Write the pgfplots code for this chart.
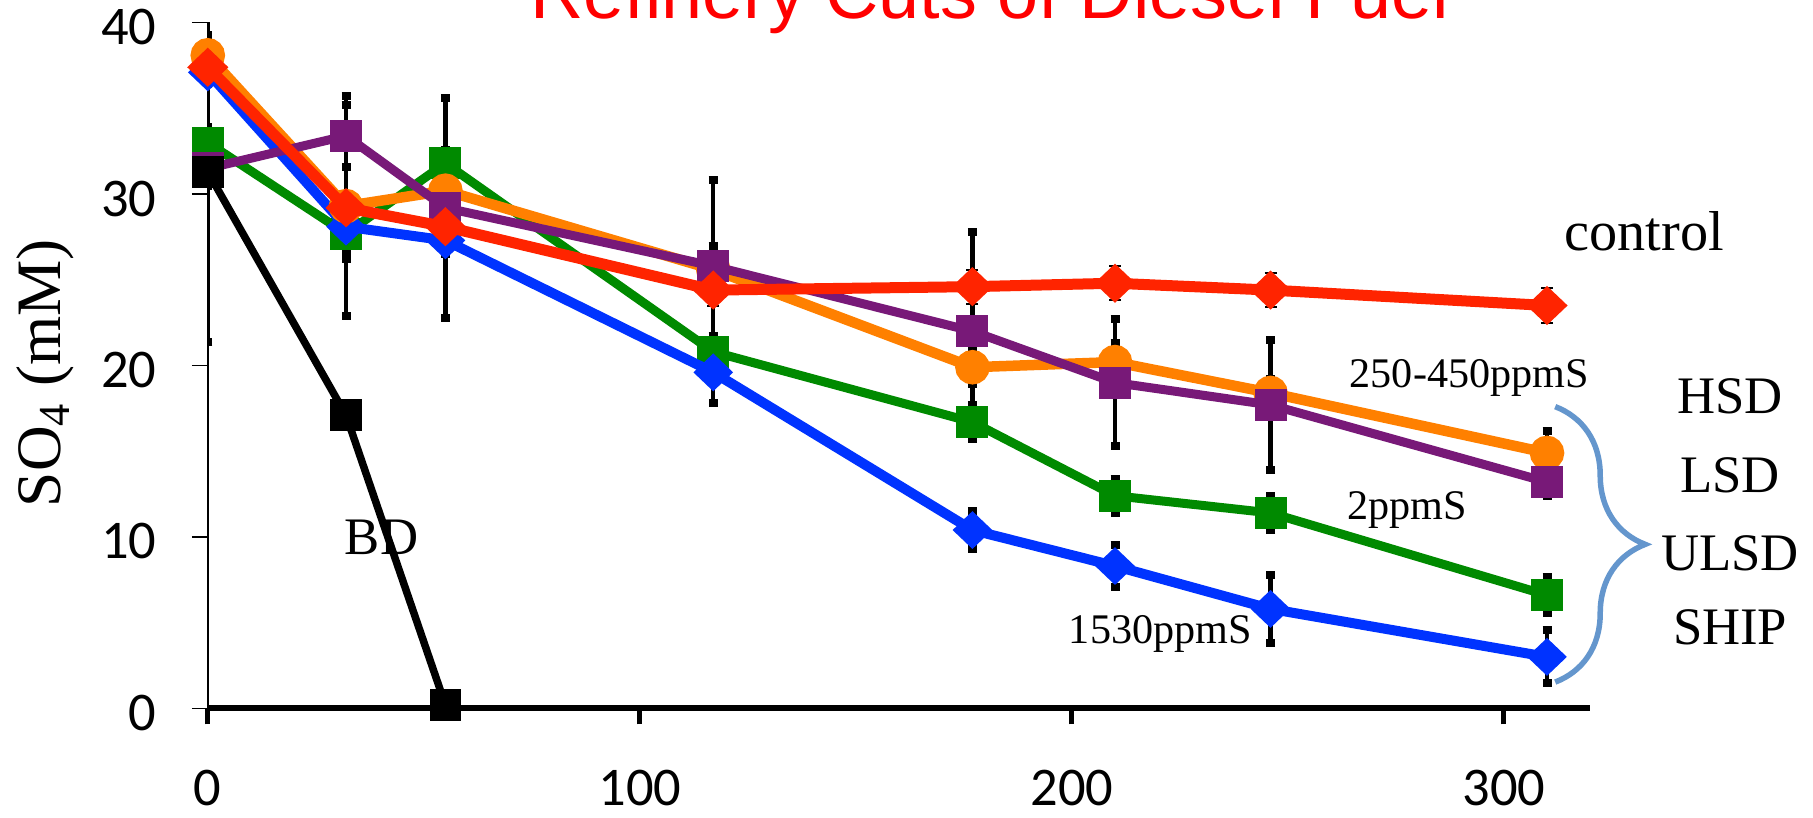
\documentclass[border=0pt]{standalone}
\usepackage{pgfplots}
\pgfplotsset{compat=1.18}
\usepackage{pgfplotstable}
\usepackage{fontspec}
\setmainfont{Liberation Serif}
\newfontfamily\carlito{Carlito}
\newfontfamily\arialf{Liberation Sans}
\usetikzlibrary{decorations.pathreplacing}
\definecolor{cred}{RGB}{255,36,0}
\definecolor{corange}{RGB}{255,128,0}
\definecolor{cpurple}{RGB}{120,25,120}
\definecolor{cgreen}{RGB}{0,138,0}
\definecolor{cblue}{RGB}{0,51,255}
\definecolor{cbrace}{RGB}{100,150,205}

% control (red diamonds)
\pgfplotstableread{
x y e
0 37.4 1.0
32 29.2 0.9
55 28.1 1.0
117 24.4 0.9
177 24.6 1.0
210 24.8 1.0
246 24.4 1.0
310 23.5 1.0
}\controldat
% HSD 250-450ppmS (orange circles)
\pgfplotstableread{
x y e
0 38.1 1.2
32 29.3 6.4
55 30.2 0.8
117 25.6 5.2
177 19.9 1.0
210 20.2 1.1
246 18.4 0.8
310 14.9 1.3
}\hsddat
% LSD (purple squares)
\pgfplotstableread{
x y e
0 31.5 1.0
32 33.4 1.8
55 29.2 6.4
117 25.8 1.2
177 22.0 5.8
210 19.0 3.7
246 17.7 3.8
310 13.2 0.8
}\lsddat
% ULSD 2ppmS (green squares)
\pgfplotstableread{
x y e
0 33.0 0.9
32 27.7 1.5
55 31.8 0.8
117 20.8 0.9
177 16.7 1.0
210 12.4 1.0
246 11.4 1.0
310 6.6 1.05
}\ulsddat
% SHIP 1530ppmS (blue diamonds)
\pgfplotstableread{
x y e
0 37.1 0.7
32 28.1 1.5
55 27.3 0.8
117 19.6 1.8
177 10.4 1.1
210 8.3 1.2
246 5.8 2.0
310 3.0 1.55
}\shipdat
% BD (black squares)
\pgfplotstableread{
x y e
0 31.3 9.9
32 17.1 0
55 0.2 0
}\bddat

\begin{document}
\begin{tikzpicture}
\begin{axis}[
  name=ax,
  scale only axis,
  width=138.24mm, height=68.56mm,
  xmin=0, xmax=320, ymin=0, ymax=40,
  clip mode=individual,
  axis x line=bottom, axis y line=left,
  axis line style={-},
  x axis line style={line width=0.6mm},
  y axis line style={line width=0.15mm},
  xtick={0,100,200,300},
  ytick={0,10,20,30,40},
  tick align=outside,
  major tick length=1.6mm,
  xtick style={line width=0.5mm, black},
  ytick style={line width=0.15mm, black},
  /pgf/number format/assume math mode=true,
  tick label style={font=\carlito\fontsize{15.5pt}{17pt}\selectfont},
  xticklabel style={yshift=-3.3mm},
  yticklabel style={xshift=-2.3mm, yshift=-0.45mm},
]
% error bars (drawn first, behind lines)
\addplot[only marks, mark=none, forget plot, error bars/.cd, y dir=both, y explicit,
  error bar style={line width=0.15mm, black},
  error mark options={rotate=90, mark size=0.6mm, line width=0.2mm, black}]
  table[x=x,y=y,y error=e]{\controldat};
\addplot[only marks, mark=none, forget plot, error bars/.cd, y dir=both, y explicit,
  error bar style={line width=0.45mm, black},
  error mark options={rotate=90, mark size=0.45mm, line width=0.8mm, black}]
  table[x=x,y=y,y error=e]{\hsddat};
\addplot[only marks, mark=none, forget plot, error bars/.cd, y dir=both, y explicit,
  error bar style={line width=0.45mm, black},
  error mark options={rotate=90, mark size=0.45mm, line width=0.8mm, black}]
  table[x=x,y=y,y error=e]{\lsddat};
\addplot[only marks, mark=none, forget plot, error bars/.cd, y dir=both, y explicit,
  error bar style={line width=0.45mm, black},
  error mark options={rotate=90, mark size=0.45mm, line width=0.8mm, black}]
  table[x=x,y=y,y error=e]{\ulsddat};
\addplot[only marks, mark=none, forget plot, error bars/.cd, y dir=both, y explicit,
  error bar style={line width=0.45mm, black},
  error mark options={rotate=90, mark size=0.45mm, line width=0.8mm, black}]
  table[x=x,y=y,y error=e]{\shipdat};
\addplot[only marks, mark=none, forget plot, error bars/.cd, y dir=both, y explicit,
  error bar style={line width=0.45mm, black},
  error mark options={rotate=90, mark size=0.45mm, line width=0.8mm, black}]
  table[x=x,y=y,y error=e]{\bddat};

% series lines
\addplot[color=cgreen, line width=0.9mm, mark=square*, mark size=1.15mm, mark options={solid}]
  table[x=x,y=y]{\ulsddat};
\addplot[color=cblue, line width=1.0mm, mark=diamond*, mark size=1.2mm, mark options={solid, xscale=1.4}]
  table[x=x,y=y]{\shipdat};
\addplot[color=corange, line width=1.05mm, mark=*, mark size=1.2mm, mark options={solid}]
  table[x=x,y=y]{\hsddat};
\addplot[color=cpurple, line width=0.9mm, mark=square*, mark size=1.15mm, mark options={solid}]
  table[x=x,y=y]{\lsddat};
\addplot[color=cred, line width=1.1mm, mark=diamond*, mark size=1.2mm, mark options={solid, xscale=1.4}]
  table[x=x,y=y]{\controldat};
\addplot[color=black, line width=0.75mm, mark=square*, mark size=1.2mm, mark options={solid}]
  table[x=x,y=y]{\bddat};

% y label
\node[rotate=90, anchor=center, font=\fontsize{18pt}{20pt}\selectfont]
  at ([xshift=-16.3mm]rel axis cs:0,0.489) {SO\textsubscript{4} (mM)};

% title (cut off at the top, as in the reference)
\node[anchor=base, text=red, font=\arialf\fontsize{21pt}{24pt}\selectfont]
  at ([yshift=0.44mm]axis cs:181,40) {Refinery Cuts of Diesel Fuel};

% annotations
\node[anchor=base, font=\fontsize{16pt}{18pt}\selectfont] at (axis cs:332.5,26.7) {control};
\node[anchor=base, font=\fontsize{12pt}{14pt}\selectfont] at (axis cs:292,18.7) {250-450ppmS};
\node[anchor=base, font=\fontsize{12pt}{14pt}\selectfont] at (axis cs:277.6,11.0) {2ppmS};
\node[anchor=base, font=\fontsize{12pt}{14pt}\selectfont] at (axis cs:220.5,3.8) {1530ppmS};
\node[anchor=base, font=\fontsize{15pt}{17pt}\selectfont] at (axis cs:40.2,9.0) {BD};
\node[anchor=base, font=\fontsize{15pt}{17pt}\selectfont] at (axis cs:352.4,17.2) {HSD};
\node[anchor=base, font=\fontsize{15pt}{17pt}\selectfont] at (axis cs:352.4,12.6) {LSD};
\node[anchor=base, font=\fontsize{15pt}{17pt}\selectfont] at (axis cs:352.4,8.05) {ULSD};
\node[anchor=base, font=\fontsize{15pt}{17pt}\selectfont] at (axis cs:352.4,3.7) {SHIP};

% brace
\draw[cbrace, line width=0.55mm, decorate, decoration={brace, amplitude=9mm}]
  (axis cs:311.9,17.6) -- (axis cs:311.9,1.53);
\end{axis}
\pgfresetboundingbox
\path[use as bounding box] ([shift={(-20.78mm,-10.87mm)}]ax.south west)
  rectangle ([shift={(160.52mm,70.83mm)}]ax.south west);
\end{tikzpicture}
\end{document}
